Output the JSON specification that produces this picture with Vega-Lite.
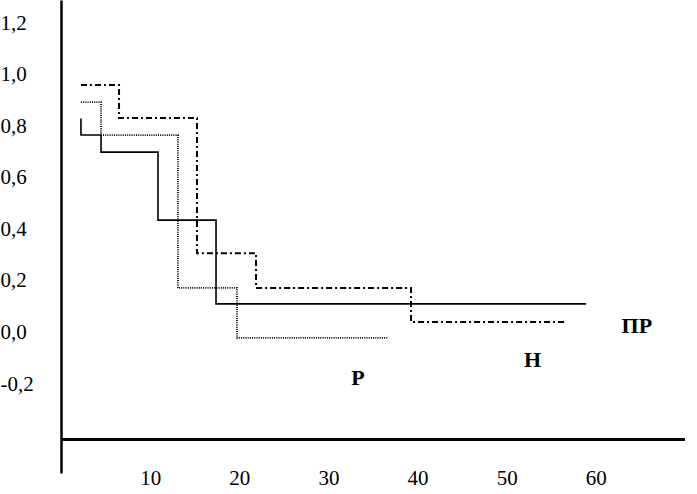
{
  "$schema": "https://vega.github.io/schema/vega-lite/v6.json",
  "autosize": {"type": "none"},
  "padding": {"left": 61, "top": 0, "right": 12, "bottom": 21},
  "width": 624,
  "height": 473,
  "background": "white",
  "config": {"view": {"stroke": null}},
  "datasets": {
    "curves": [
      {"series": "ПР", "i": 0, "t": 2.24, "s": 0.83},
      {"series": "ПР", "i": 1, "t": 2.24, "s": 0.766},
      {"series": "ПР", "i": 2, "t": 4.49, "s": 0.70},
      {"series": "ПР", "i": 3, "t": 10.88, "s": 0.436},
      {"series": "ПР", "i": 4, "t": 17.39, "s": 0.111},
      {"series": "ПР", "i": 5, "t": 58.9, "s": 0.111},
      {"series": "Р", "i": 0, "t": 2.24, "s": 0.894},
      {"series": "Р", "i": 1, "t": 4.49, "s": 0.766},
      {"series": "Р", "i": 2, "t": 13.12, "s": 0.173},
      {"series": "Р", "i": 3, "t": 19.74, "s": -0.021},
      {"series": "Р", "i": 4, "t": 36.7, "s": -0.021},
      {"series": "Н", "i": 0, "t": 2.24, "s": 0.96},
      {"series": "Н", "i": 1, "t": 6.51, "s": 0.832},
      {"series": "Н", "i": 2, "t": 15.26, "s": 0.308},
      {"series": "Н", "i": 3, "t": 21.88, "s": 0.173},
      {"series": "Н", "i": 4, "t": 39.26, "s": 0.041},
      {"series": "Н", "i": 5, "t": 56.54, "s": 0.041}
    ],
    "labels": [
      {"label": "ПР", "t": 64.6, "s": 0.025},
      {"label": "Н", "t": 52.9, "s": -0.107},
      {"label": "Р", "t": 33.3, "s": -0.176}
    ]
  },
  "layer": [
    {
      "data": {"name": "curves"},
      "transform": [{"filter": "datum.series === 'ПР'"}],
      "mark": {"type": "line", "interpolate": "step-after", "color": "black", "strokeWidth": 1.6},
      "encoding": {
        "x": {
          "field": "t", "type": "quantitative",
          "scale": {"domain": [0, 70], "nice": false, "zero": false},
          "axis": {
            "values": [10, 20, 30, 40, 50, 60],
            "domain": false, "ticks": false, "tickSize": 0, "grid": false, "title": null,
            "labelPadding": -6, "labelFont": "Liberation Serif", "labelFontSize": 21,
            "labelColor": "black"
          }
        },
        "y": {
          "field": "s", "type": "quantitative",
          "scale": {"domain": [-0.545, 1.29], "nice": false, "zero": false},
          "axis": {
            "values": [-0.2, 0, 0.2, 0.4, 0.6, 0.8, 1.0, 1.2],
            "domain": true, "domainColor": "black", "domainWidth": 2.5,
            "ticks": false, "tickSize": 0, "grid": false, "title": null,
            "labelAlign": "left", "labelPadding": 61, "labelBaseline": "middle",
            "labelFont": "Liberation Serif", "labelFontSize": 21, "labelColor": "black",
            "labelExpr": "replace(replace(format(datum.value, '.1f'), '.', ','), '\u2212', '-')"
          }
        },
        "order": {"field": "i", "type": "quantitative"}
      }
    },
    {
      "data": {"name": "curves"},
      "transform": [{"filter": "datum.series === 'Р'"}],
      "mark": {"type": "line", "interpolate": "step-after", "color": "black", "strokeWidth": 1.8, "strokeDash": [1, 1.2]},
      "encoding": {
        "x": {"field": "t", "type": "quantitative"},
        "y": {"field": "s", "type": "quantitative"},
        "order": {"field": "i", "type": "quantitative"}
      }
    },
    {
      "data": {"name": "curves"},
      "transform": [{"filter": "datum.series === 'Н'"}],
      "mark": {"type": "line", "interpolate": "step-after", "color": "black", "strokeWidth": 2, "strokeDash": [6, 3, 2, 3]},
      "encoding": {
        "x": {"field": "t", "type": "quantitative"},
        "y": {"field": "s", "type": "quantitative"},
        "order": {"field": "i", "type": "quantitative"}
      }
    },
    {
      "data": {"values": [{}]},
      "mark": {"type": "rule", "color": "black", "strokeWidth": 3},
      "encoding": {
        "x": {"datum": 0},
        "x2": {"datum": 70},
        "y": {"datum": -0.415}
      }
    },
    {
      "data": {"name": "labels"},
      "mark": {"type": "text", "font": "Liberation Serif", "fontSize": 22, "fontWeight": "bold", "color": "black", "baseline": "middle", "align": "center"},
      "encoding": {
        "x": {"field": "t", "type": "quantitative"},
        "y": {"field": "s", "type": "quantitative"},
        "text": {"field": "label"}
      }
    }
  ]
}
